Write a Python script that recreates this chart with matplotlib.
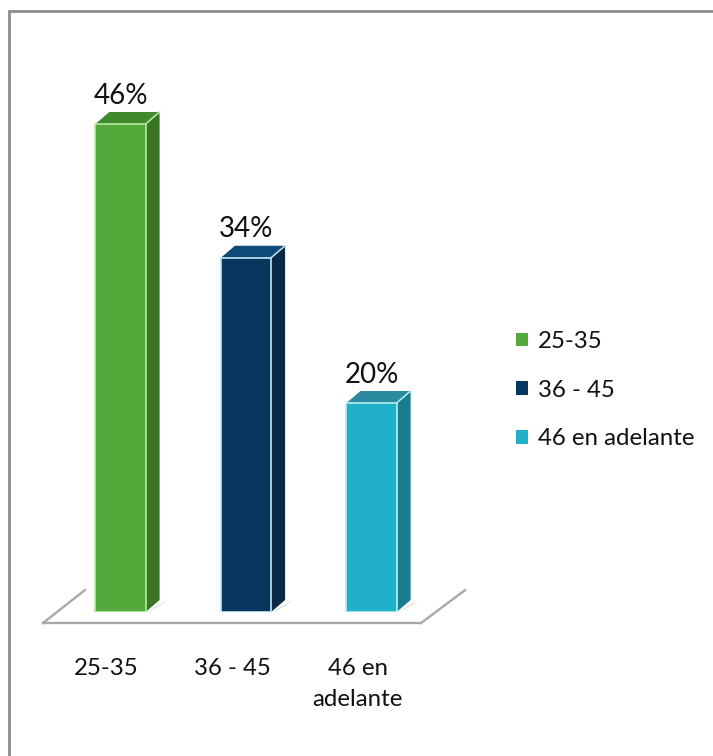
import matplotlib
matplotlib.use("Agg")
import matplotlib.pyplot as plt
from matplotlib.patches import Polygon, Rectangle
from matplotlib.lines import Line2D
from matplotlib.transforms import IdentityTransform, ScaledTranslation

categories = ["25-35", "36 - 45", "46 en\nadelante"]
legend_names = ["25-35", "36 - 45", "46 en adelante"]
heights = [46.7, 33.9, 20.0]
value_labels = ["46%", "34%", "20%"]
front = ["#53A93A", "#07365F", "#20B0C9"]
top = ["#3F8A2C", "#0E4A78", "#2B8AA0"]
side = ["#387524", "#0A2A47", "#1A7C8E"]
edge = ["#B6EBA0", "#BFE6F5", "#B5F0F5"]

W, H = 713, 756
plt.rcParams["font.family"] = ["Lato", "DejaVu Sans"]
fig = plt.figure(figsize=(W / 100, H / 100), dpi=100)
fig.patch.set_facecolor("white")
# Frame: only the top and left edges fall inside the picture
fig.add_artist(Line2D([8.5 / W, 8.5 / W, 1], [0, 1 - 11 / H, 1 - 11 / H], transform=fig.transFigure,
                      color="#8C8C8C", linewidth=2, solid_joinstyle="miter"))

ax = fig.add_axes([57.75 / W, 1 - 612 / H, 376.5 / W, 522 / H])
ax.set_xlim(-0.5, 2.5)
ax.set_ylim(0, 522 / 10.45)
ax.patch.set_alpha(0)
for s in ax.spines.values():
    s.set_visible(False)
ax.set_yticks([])
ax.set_xticks(range(3))
ax.set_xticklabels(categories, fontsize=17.3, color="#111111", linespacing=1.6)
ax.tick_params(axis="x", length=0, pad=33)
shift = ScaledTranslation(-14 / 100, 0, fig.dpi_scale_trans)
for lbl in ax.get_xticklabels():
    lbl.set_transform(lbl.get_transform() + shift)

bars = ax.bar(range(3), heights, width=0.4, color=front, edgecolor=edge, linewidth=1.2, zorder=3)
ax.set_zorder(2)
fig.canvas.draw()

dx, dy = 14, 12
idt = IdentityTransform()
for i, b in enumerate(bars):
    (x0, y0) = ax.transData.transform((b.get_x(), 0))
    (x1, y1) = ax.transData.transform((b.get_x() + b.get_width(), b.get_height()))
    ax.add_patch(Polygon([(x1 - 2, y0 - 2), (x1 + dx + 8, y0 + dy), (x1 + dx, y0 + dy - 6)],
                         closed=True, transform=idt, facecolor="#D8D8D8", edgecolor="none", zorder=1))
    ax.add_patch(Polygon([(x1, y0), (x1 + dx, y0 + dy), (x1 + dx, y1 + dy), (x1, y1)],
                         closed=True, transform=idt, facecolor=side[i], edgecolor="none", zorder=2))
    ax.add_patch(Polygon([(x0, y1), (x0 + dx, y1 + dy), (x1 + dx, y1 + dy), (x1, y1)],
                         closed=True, transform=idt, facecolor=top[i], edgecolor="none", zorder=2))
    ax.add_line(Line2D([x1, x1 + dx], [y1, y1 + dy], transform=idt, color=edge[i], lw=1.1, zorder=4))
    ax.annotate(value_labels[i], xy=(b.get_x() + b.get_width() / 2, b.get_height()),
                xytext=(0, 11), textcoords="offset points", ha="center", va="bottom",
                fontsize=20, color="#111111", zorder=5)

# Floor outline, tied to the axes frame
floor_kw = dict(transform=ax.transAxes, color="#A8A8A8", lw=1.7, clip_on=False, zorder=0)
ax.add_line(Line2D([-0.039, 0.072], [-0.021, 0.042], **floor_kw))
ax.add_line(Line2D([-0.039, 0.965], [-0.021, -0.021], **floor_kw))
ax.add_line(Line2D([0.965, 1.082], [-0.021, 0.042], **floor_kw))

handles = [Rectangle((0, 0), 1, 1, facecolor=c, edgecolor="none") for c in front]
fig.legend(handles, legend_names, loc="upper left", bbox_to_anchor=(516 / W, 1 - 331 / H),
           frameon=False, fontsize=17.3, handlelength=0.5, handleheight=0.5, handletextpad=0.42,
           labelspacing=1.15, borderpad=0, borderaxespad=0, labelcolor="#111111")

fig.savefig("out.png", dpi=100)
